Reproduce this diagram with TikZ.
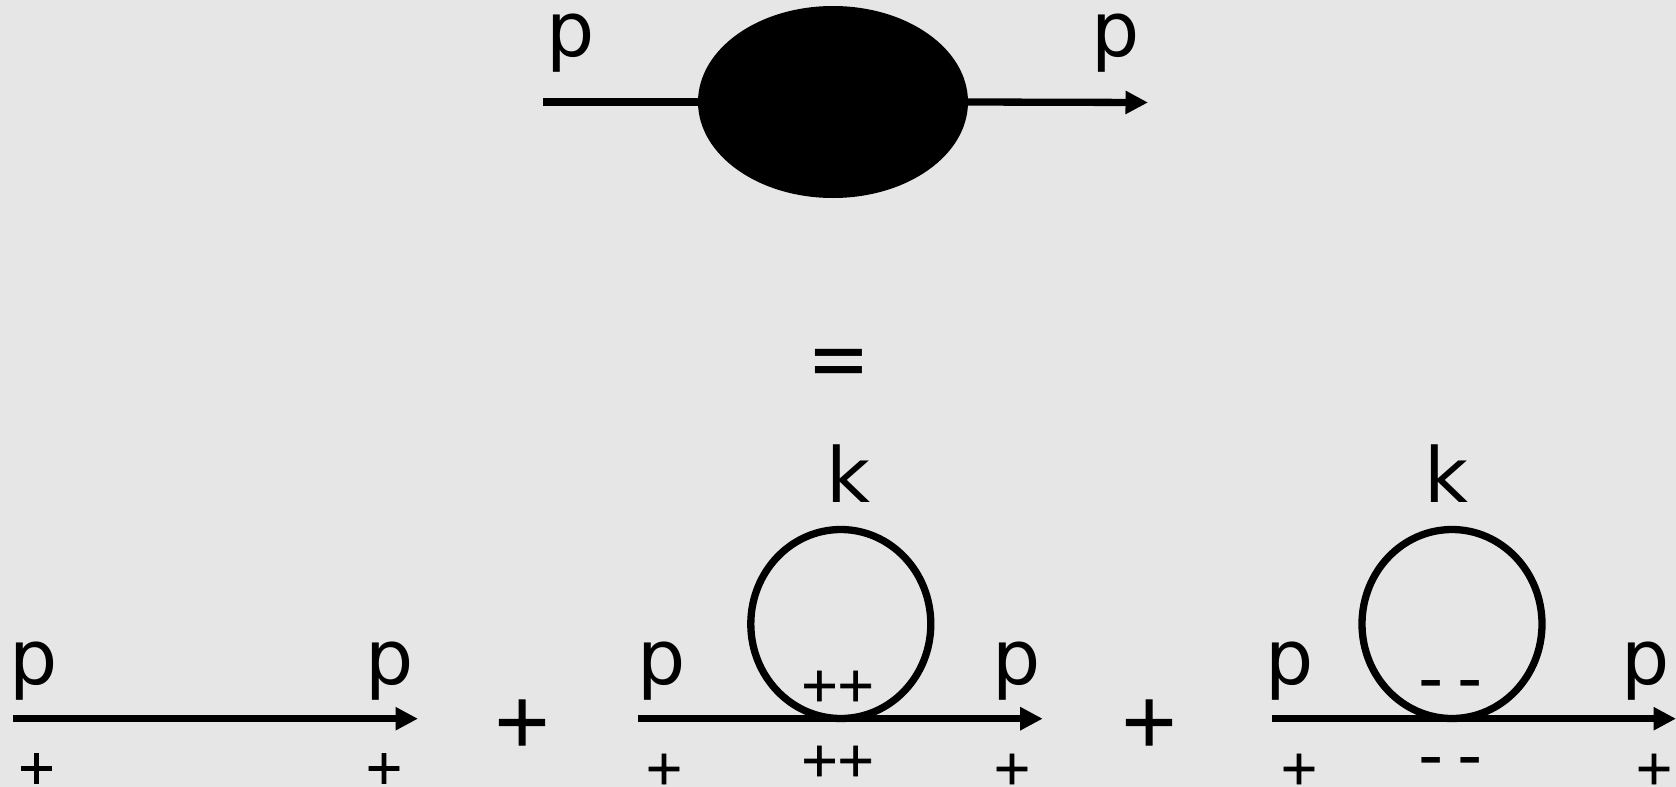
\documentclass[tikz,border=0pt]{standalone}
\usepackage{fontspec}
\setmainfont{DejaVu Sans}
\newfontfamily\heavyfont[FakeBold=1.5]{DejaVu Sans}
\usetikzlibrary{shapes.geometric,arrows.meta}
\definecolor{bgcol}{HTML}{E6E6E6}
\tikzset{
  x=1pt,y=-1pt,
  lab/.style={inner sep=0pt,outer sep=0pt,anchor=base,font=\fontsize{76}{76}\selectfont},
  small/.style={inner sep=0pt,outer sep=0pt,anchor=center,font=\heavyfont\fontsize{48}{48}\selectfont},
  bigplus/.style={inner sep=0pt,outer sep=0pt,anchor=center,font=\heavyfont\fontsize{72}{72}\selectfont,text=black},
  dashes/.style={inner sep=0pt,outer sep=0pt,anchor=center,font=\fontsize{70}{70}\selectfont},
  line/.style={line width=7.3pt,draw=black},
  arrowline/.style={line/.try,-{Triangle[length=22.5pt,width=22pt]}},
  blob/.style={ellipse,fill=black,inner sep=0pt,outer sep=0pt,minimum width=270pt,minimum height=192pt},
  loopnode/.style={ellipse,draw=black,line width=7.3pt,inner sep=0pt,outer sep=0pt,minimum width=180pt,minimum height=189pt},
}
\begin{document}
\begin{tikzpicture}
\fill[bgcol] (0,0) rectangle (1676,787);
\useasboundingbox (0,0) rectangle (1676,787);
% top
\node[blob] (b) at (833,102) {};
\coordinate (t1) at (543,102);
\coordinate (t2) at (1148,102.5);
\draw[line] (t1) -- (b.west);
\draw[arrowline] (b.east) -- (t2);
\node[lab] (tp1) at (571,56) {p};
\node[lab] (tp2) at (1116,56) {p};
\node[lab,font=\fontsize{75}{75}\selectfont] (eq) at (839,388) {\scalebox{1}[1.15]{=}};
% row 1
\coordinate (a1) at (13,718.7);
\coordinate (a2) at (418,718.7);
\draw[arrowline] (a1) -- (a2);
\node[lab] (ap1) at (34,684) {p};
\node[lab] (ap2) at (390,684) {p};
\node[small] (as1) at (36.5,768.5) {+};
\node[small] (as2) at (384,768.5) {+};
\node[bigplus] (plus1) at (522,722.5) {+};
% row 2
\node[loopnode] (l1) at (840.8,624) {};
\coordinate (c1) at (638.3,718.7);
\coordinate (c2) at (1042.7,718.7);
\draw[arrowline] (c1) -- (c2);
\node[lab] (cp1) at (662,684) {p};
\node[lab] (cp2) at (1017,684) {p};
\node[lab] (ck) at (848,502) {k};
\node[small] (cs1) at (664,769) {+};
\node[small] (cs2) at (1012,769) {+};
\node[small] (cu) at (837.5,686) {+\kern-4pt+};
\node[small] (cd) at (837.5,761) {+\kern-4pt+};
\node[bigplus] (plus2) at (1149,722.5) {+};
% row 3
\node[loopnode] (l2) at (1452,624) {};
\coordinate (d1) at (1272.3,718.7);
\coordinate (d2) at (1676,718.7);
\draw[arrowline] (d1) -- (d2);
\node[lab] (dp1) at (1290,684) {p};
\node[lab] (dp2) at (1646,684) {p};
\node[lab] (dk) at (1446,502) {k};
\node[small] (ds1) at (1299,769) {+};
\node[small] (ds2) at (1654,769) {+};
\node[dashes] (du) at (1450.5,692) {-\hspace{14pt}-};
\node[dashes] (dd) at (1450.5,768.5) {-\hspace{14pt}-};
\end{tikzpicture}
\end{document}
